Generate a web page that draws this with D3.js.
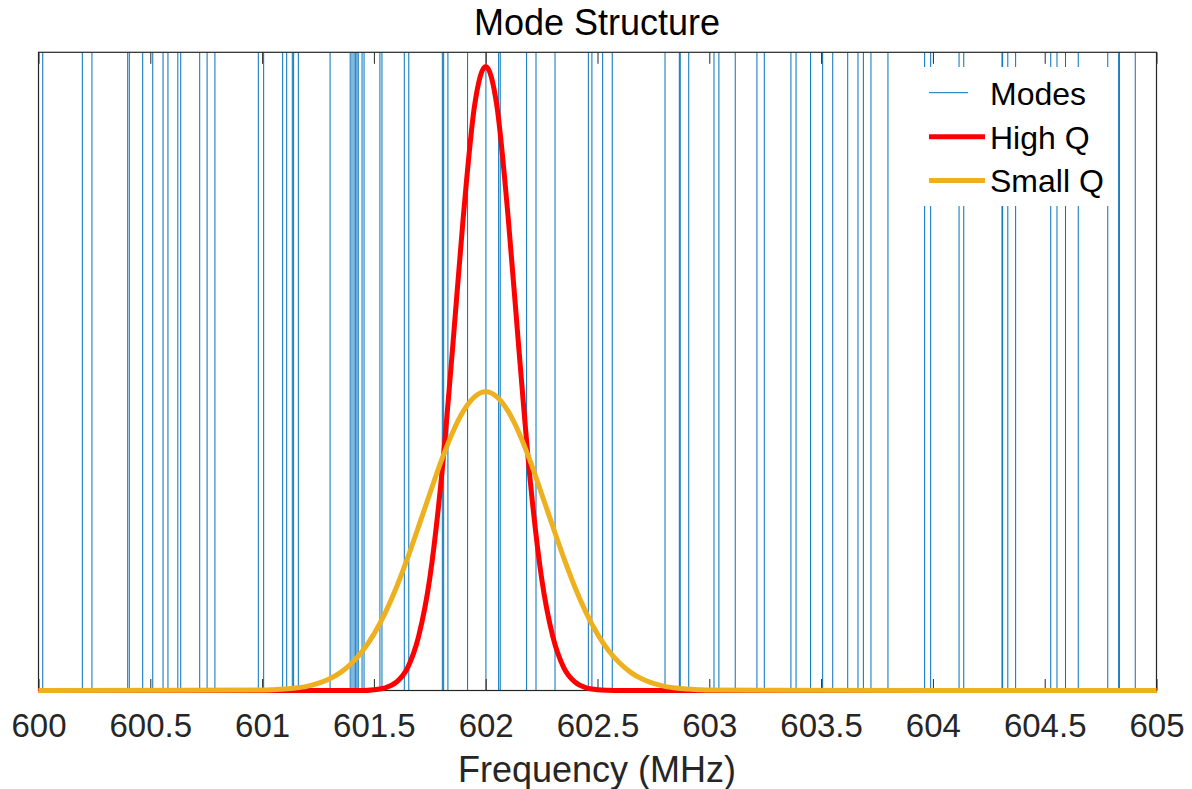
<!DOCTYPE html>
<html>
<head>
<meta charset="utf-8">
<script src="https://cdn.jsdelivr.net/npm/d3@7"></script>
<style>
  html, body { margin: 0; padding: 0; background: #ffffff; }
  svg { display: block; font-family: "Liberation Sans", Arial, Helvetica, sans-serif; }
</style>
</head>
<body>
<svg id="chart" width="1192" height="789"></svg>
<script>
// ---------------- DATA ----------------
const modeFreqs = [
  600.019, 600.196, 600.239, 600.399, 600.406, 600.466, 600.511, 600.557, 600.579, 600.623, 600.636, 600.721, 600.754, 600.789,
  600.983, 601.007, 601.092, 601.110, 601.135, 601.141, 601.162, 601.304, 601.394, 601.402, 601.411, 601.417, 601.424, 601.430,
  601.447, 601.456, 601.527, 601.536, 601.636, 601.656,
  601.806, 601.812, 601.831, 601.919, 602.001, 602.058, 602.065, 602.183, 602.225, 602.310, 602.459, 602.475, 602.523,
  602.566, 602.802, 602.866, 602.870, 602.908, 603.021, 603.043, 603.116, 603.213, 603.246, 603.365, 603.388,
  603.453, 603.507, 603.552, 603.619, 603.665, 603.689, 603.723, 603.799, 603.963, 603.990, 604.117, 604.138,
  604.309, 604.312, 604.335, 604.370, 604.527, 604.555, 604.593, 604.650, 604.782, 604.831, 604.834, 604.905
];

const curveFreqs = [600.00,
  601.00, 601.05, 601.10, 601.15, 601.20, 601.25, 601.30, 601.35, 601.40, 601.45,
  601.50, 601.55, 601.60, 601.65, 601.70, 601.75, 601.80, 601.85, 601.90, 601.95,
  602.00,
  602.05, 602.10, 602.15, 602.20, 602.25, 602.30, 602.35, 602.40, 602.45, 602.50,
  602.55, 602.60, 602.65, 602.70, 602.75, 602.80, 602.85, 602.90, 602.95, 603.00,
  605.00];

const highQ = [0,
  0, 0, 0, 0, 0, 0, 0, 0, 0, 0,
  0.004, 0.013, 0.040, 0.108, 0.26, 0.54, 1.00, 1.62, 2.28, 2.81,
  3.00,
  2.81, 2.28, 1.62, 1.00, 0.54, 0.26, 0.108, 0.040, 0.013, 0.004,
  0.001, 0, 0, 0, 0, 0, 0, 0, 0, 0,
  0];

const smallQ = [0,
  0.002, 0.004, 0.007, 0.012, 0.020, 0.034, 0.055, 0.086, 0.131, 0.191,
  0.271, 0.372, 0.494, 0.635, 0.789, 0.946, 1.100, 1.236, 1.343, 1.412,
  1.436,
  1.412, 1.343, 1.236, 1.100, 0.946, 0.789, 0.635, 0.494, 0.372, 0.271,
  0.191, 0.131, 0.086, 0.055, 0.034, 0.020, 0.012, 0.007, 0.004, 0.002,
  0];

const tickValues = [600, 600.5, 601, 601.5, 602, 602.5, 603, 603.5, 604, 604.5, 605];
const tickLabels = ["600", "600.5", "601", "601.5", "602", "602.5", "603", "603.5", "604", "604.5", "605"];

const titleText = "Mode Structure";
const xLabelText = "Frequency (MHz)";
const legendNames = ["Modes", "High Q", "Small Q"];

// ---------------- LAYOUT ----------------
const W = 1192, H = 789;
const plotL = 38.5, plotR = 1156.5, plotT = 52.3, plotB = 690.5;
const axisColor = "#262626";
const modeColor = "#0072BD";
const redColor = "#FF0000";
const yellowColor = "#EDB120";

const svg = d3.select("#chart");
svg.append("rect").attr("width", W).attr("height", H).attr("fill", "#ffffff");

const x = d3.scaleLinear().domain([600, 605]).range([plotL, plotR]);
const y = d3.scaleLinear().domain([0, 3.068]).range([plotB, plotT]);

// mode lines
svg.append("g").selectAll("line").data(modeFreqs).join("line")
  .attr("x1", d => x(d)).attr("x2", d => x(d))
  .attr("y1", y(0)).attr("y2", plotT)
  .attr("stroke", modeColor).attr("stroke-width", 1);

// axes (bottom with labels, top mirrored ticks)
const xAxis = d3.axisBottom(x).tickValues(tickValues)
  .tickFormat((d, i) => tickLabels[i]).tickSizeInner(-11.5).tickSizeOuter(0).tickPadding(23);
const gx = svg.append("g").attr("transform", `translate(0,${plotB})`).call(xAxis);
gx.select(".domain").remove();
gx.selectAll(".tick line").attr("stroke", axisColor);
gx.selectAll(".tick text").attr("fill", axisColor).attr("font-size", 33)
  .attr("font-family", "\"Liberation Sans\", Arial, sans-serif").attr("dy", "0.71em");

const xAxisTop = d3.axisTop(x).tickValues(tickValues).tickFormat("").tickSizeInner(-11.5).tickSizeOuter(0);
const gxt = svg.append("g").attr("transform", `translate(0,${plotT})`).call(xAxisTop);
gxt.select(".domain").remove();
gxt.selectAll(".tick line").attr("stroke", axisColor);

// box
svg.append("rect").attr("x", plotL).attr("y", plotT)
  .attr("width", plotR - plotL).attr("height", plotB - plotT)
  .attr("fill", "none").attr("stroke", axisColor).attr("stroke-width", 1.2);

// curves on top of the box
const line = d3.line()
  .x((d, i) => x(curveFreqs[i]))
  .y(d => y(d))
  .curve(d3.curveMonotoneX);

svg.append("path").datum(highQ).attr("d", line)
  .attr("fill", "none").attr("stroke", redColor).attr("stroke-width", 5).attr("stroke-linejoin", "round");
svg.append("path").datum(smallQ).attr("d", line)
  .attr("fill", "none").attr("stroke", yellowColor).attr("stroke-width", 5).attr("stroke-linejoin", "round");

// legend
const lg = svg.append("g");
lg.append("rect").attr("x", 920).attr("y", 67).attr("width", 194).attr("height", 139).attr("fill", "#ffffff");
const legendColors = [modeColor, redColor, yellowColor];
const legendWidths = [1, 5, 5];
const legendLineEnds = [968, 985, 985];
const legendY = [92.7, 136.7, 180.5];
const legendBase = [105, 149.3, 192];
legendNames.forEach((name, i) => {
  lg.append("line").attr("x1", 929).attr("x2", legendLineEnds[i])
    .attr("y1", legendY[i]).attr("y2", legendY[i])
    .attr("stroke", legendColors[i]).attr("stroke-width", legendWidths[i]);
  lg.append("text").attr("x", 990).attr("y", legendBase[i])
    .attr("font-size", 32).attr("fill", "#000000").text(name);
});

// title and x label
svg.append("text").attr("x", 597).attr("y", 35).attr("text-anchor", "middle")
  .attr("font-size", 36).attr("fill", "#000000").text(titleText);
svg.append("text").attr("x", 597).attr("y", 782).attr("text-anchor", "middle")
  .attr("font-size", 36).attr("fill", axisColor).text(xLabelText);
</script>
</body>
</html>
